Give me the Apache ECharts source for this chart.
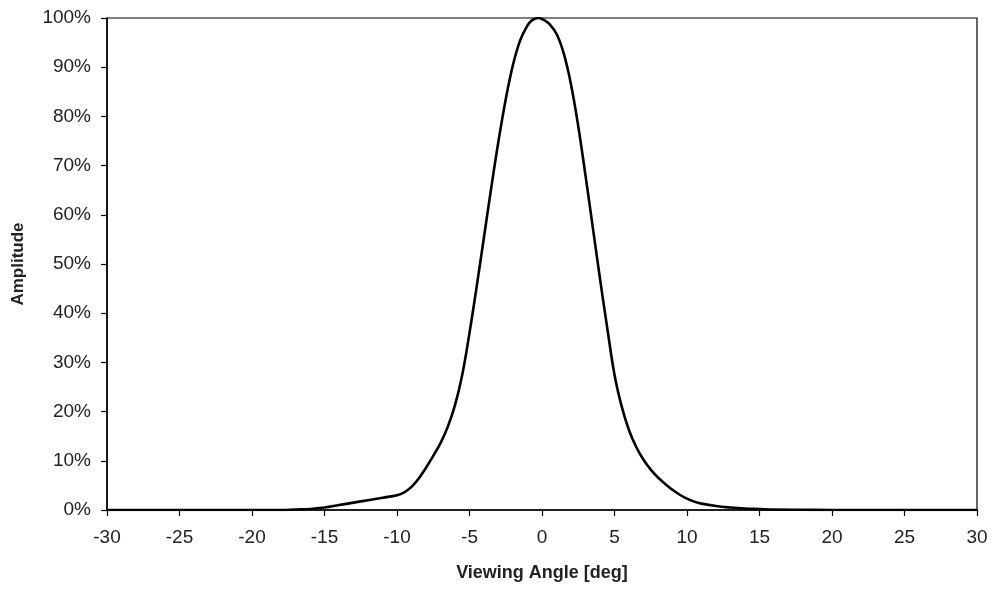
<!DOCTYPE html>
<html>
<head>
<meta charset="utf-8">
<script src="https://cdn.jsdelivr.net/npm/echarts@6/dist/echarts.min.js"></script>
<style>html,body{margin:0;padding:0;background:#fff;}#c{width:992px;height:589px;}</style>
</head>
<body>
<div id="c"></div>
<script>
const angles = [-30,-28,-26,-24,-22,-20,-18,-17,-16,-15,-14,-13,-12,-11,-10,-9.5,-9,-8.5,-8,-7.5,-7,-6.5,-6,-5.5,-5,-4.5,-4,-3.5,-3,-2.5,-2,-1.5,-1,-0.75,-0.5,-0.25,0,0.25,0.5,1,1.5,2,2.5,3,3.5,4,4.5,5,5.5,6,6.5,7,7.5,8,8.5,9,9.5,10,10.5,11,12,13,14,15,16,18,20,22,24,26,28,30];
const amplitude = [0,0,0,0,0,0,0,0.1,0.2,0.5,1.0,1.5,2.0,2.5,3.0,3.6,4.7,6.4,8.6,11,13.6,16.9,21.3,27.5,36,45.5,55.5,65.5,75,83.5,90.5,95.5,98.5,99.4,99.85,100,99.8,99.4,98.8,96.8,92.8,86.5,78,68,57.5,47,37,27.5,21,16.2,12.8,10.2,8.2,6.6,5.3,4.1,3.1,2.3,1.7,1.3,0.8,0.5,0.3,0.2,0.1,0.05,0,0,0,0,0,0];
const xTicks = {min:-30, max:30, step:5};
const yTicks = {min:0, max:100, step:10};

const font = 'Liberation Sans, Arial, sans-serif';
const chart = echarts.init(document.getElementById('c'));
chart.setOption({
  animation:false,
  backgroundColor:'#fff',
  grid:{left:107, right:15, top:18, bottom:79, show:true, borderColor:'#000', borderWidth:1.2, backgroundColor:'transparent'},
  xAxis:{
    type:'value', min:xTicks.min, max:xTicks.max, interval:xTicks.step,
    name:'Viewing Angle [deg]', nameLocation:'middle', nameGap:54,
    nameTextStyle:{fontFamily:font, fontWeight:'bold', fontSize:18, color:'#222'},
    axisLine:{show:true, onZero:false, lineStyle:{color:'#000', width:1.5}},
    axisTick:{show:true, length:6, lineStyle:{color:'#000', width:1.2}},
    axisLabel:{fontFamily:font, fontSize:19, color:'#222', margin:18},
    splitLine:{show:false}
  },
  yAxis:{
    type:'value', min:yTicks.min, max:yTicks.max, interval:yTicks.step,
    name:'Amplitude', nameLocation:'middle', nameGap:80, nameRotate:90,
    nameTextStyle:{fontFamily:font, fontWeight:'bold', fontSize:17, color:'#222'},
    axisLine:{show:true, onZero:false, lineStyle:{color:'#000', width:1.5}},
    axisTick:{show:true, length:6, lineStyle:{color:'#000', width:1.2}},
    axisLabel:{fontFamily:font, fontSize:19, color:'#222', margin:16, formatter:'{value}%'},
    splitLine:{show:false}
  },
  series:[{
    type:'line',
    data:angles.map((a,i)=>[a, amplitude[i]]),
    smooth:0.4,
    showSymbol:false,
    lineStyle:{color:'#000', width:2.6},
    clip:true
  }]
});
</script>
</body>
</html>
